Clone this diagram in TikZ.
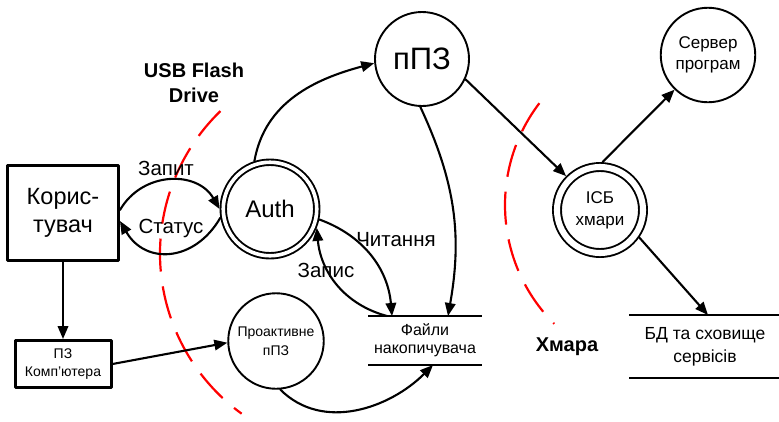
\documentclass[tikz,border=0pt]{standalone}
\usepackage{fontspec}
\setmainfont{Liberation Sans}
\usetikzlibrary{arrows.meta}

\begin{document}
\begin{tikzpicture}[line cap=round,line join=round,>={Triangle[length=13pt,width=10.5pt]},x=1pt,y=1pt,
  conn/.style={->,line width=2.1pt},
  box/.style={draw,rectangle,line width=3pt,inner sep=2pt,align=center},
  proc/.style={draw,circle,line width=1.9pt,inner sep=0pt,align=center},
  dproc/.style={proc,double,double distance=#1},
  store/.style={rectangle,inner sep=0pt,outer sep=0pt,align=center},
  storeline/.style={line width=2.6pt,line cap=butt},
  lbl/.style={inner sep=0pt,font=\fontsize{20.5}{24}\selectfont},
  zonelbl/.style={inner sep=0pt,align=center,font=\fontsize{20}{25}\selectfont\bfseries},
  zone/.style={red,line width=2.2pt,line cap=butt,dash pattern=on 33pt off 15pt}]
\useasboundingbox (0,0) rectangle (779,-421);

\draw[zone] (358,-253.5) ++(134:198) arc[start angle=134,end angle=234,radius=198];
\draw[zone] (673,-205) ++(142.7:168) arc[start angle=142.7,end angle=225,radius=168];

\node[box,minimum width=111,minimum height=95,font=\fontsize{23.5}{28}\selectfont] (user) at (63,-213) {Корис-\\тувач};
\node[box,minimum width=96,minimum height=47,font=\fontsize{14}{18}\selectfont] (pzk) at (63,-364) {ПЗ\\Комп'ютера};
\node[dproc=3.6,minimum size=93.5,outer sep=3.7,font=\fontsize{24}{28}\selectfont] (auth) at (270,-209) {Auth};
\node[proc,minimum size=94,font=\fontsize{31}{36}\selectfont] (ppz) at (422,-59) {пПЗ};
\node[proc,minimum size=95.5,font=\fontsize{14}{19}\selectfont] (pro) at (276,-341) {Проактивне\\пПЗ};
\node[store,minimum width=114,minimum height=49,font=\fontsize{16}{18}\selectfont] (files) at (425,-340.5) {Файли\\накопичувача};
\node[dproc=6.1,minimum size=86,outer sep=5,font=\fontsize{17}{22}\selectfont] (isb) at (600,-210) {ІСБ\\хмари};
\node[proc,minimum size=94.5,font=\fontsize{17}{21}\selectfont] (server) at (708,-55) {Сервер\\програм};
\node[store,minimum width=152,minimum height=63,font=\fontsize{17.5}{23}\selectfont] (db) at (705,-346.5) {БД та сховище\\сервісів};

\draw[storeline] (files.north west) -- (files.north east) (files.south west) -- (files.south east);
\draw[storeline] (db.north west) -- (db.north east) (db.south west) -- (db.south east);

\node[lbl] (zapyt) at (166,-168) {Запит};
\node[lbl] (status) at (171,-228) {Статус};
\node[lbl] (read) at (396,-240) {Читання};
\node[lbl] (write) at (326,-270) {Запис};
\node[zonelbl] (usb) at (194,-83) {USB Flash\\Drive};
\node[zonelbl] (cloud) at (567,-347) {Хмара};

\draw[conn] ([yshift=3]user.east) to[out=60,in=120,looseness=1.15] (auth.west);
\draw[conn] (auth.190) to[out=-120,in=-60,looseness=1.3] ([yshift=-8]user.east);
\draw[conn] (auth.108) to[out=80,in=195] (ppz.185);
\draw[conn] (ppz.-25) -- (isb.135);
\draw[conn] (ppz.-92) to[out=-65,in=80] ([xshift=23]files.north);
\draw[conn] (auth.-12) to[out=-20,in=95] ([xshift=-33]files.north);
\draw[conn] ([xshift=-38]files.north) to[out=165,in=-85] (auth.-22);
\draw[conn] (user.south) -- (pzk.north);
\draw[conn] (pzk.east) -- (pro.182);
\draw[conn] (pro.-85) to[out=-45,in=-135] ([xshift=8]files.south);
\draw[conn] (isb.87) -- (server.226);
\draw[conn] (isb.-35) -- ([xshift=3]db.north);
\end{tikzpicture}
\end{document}
